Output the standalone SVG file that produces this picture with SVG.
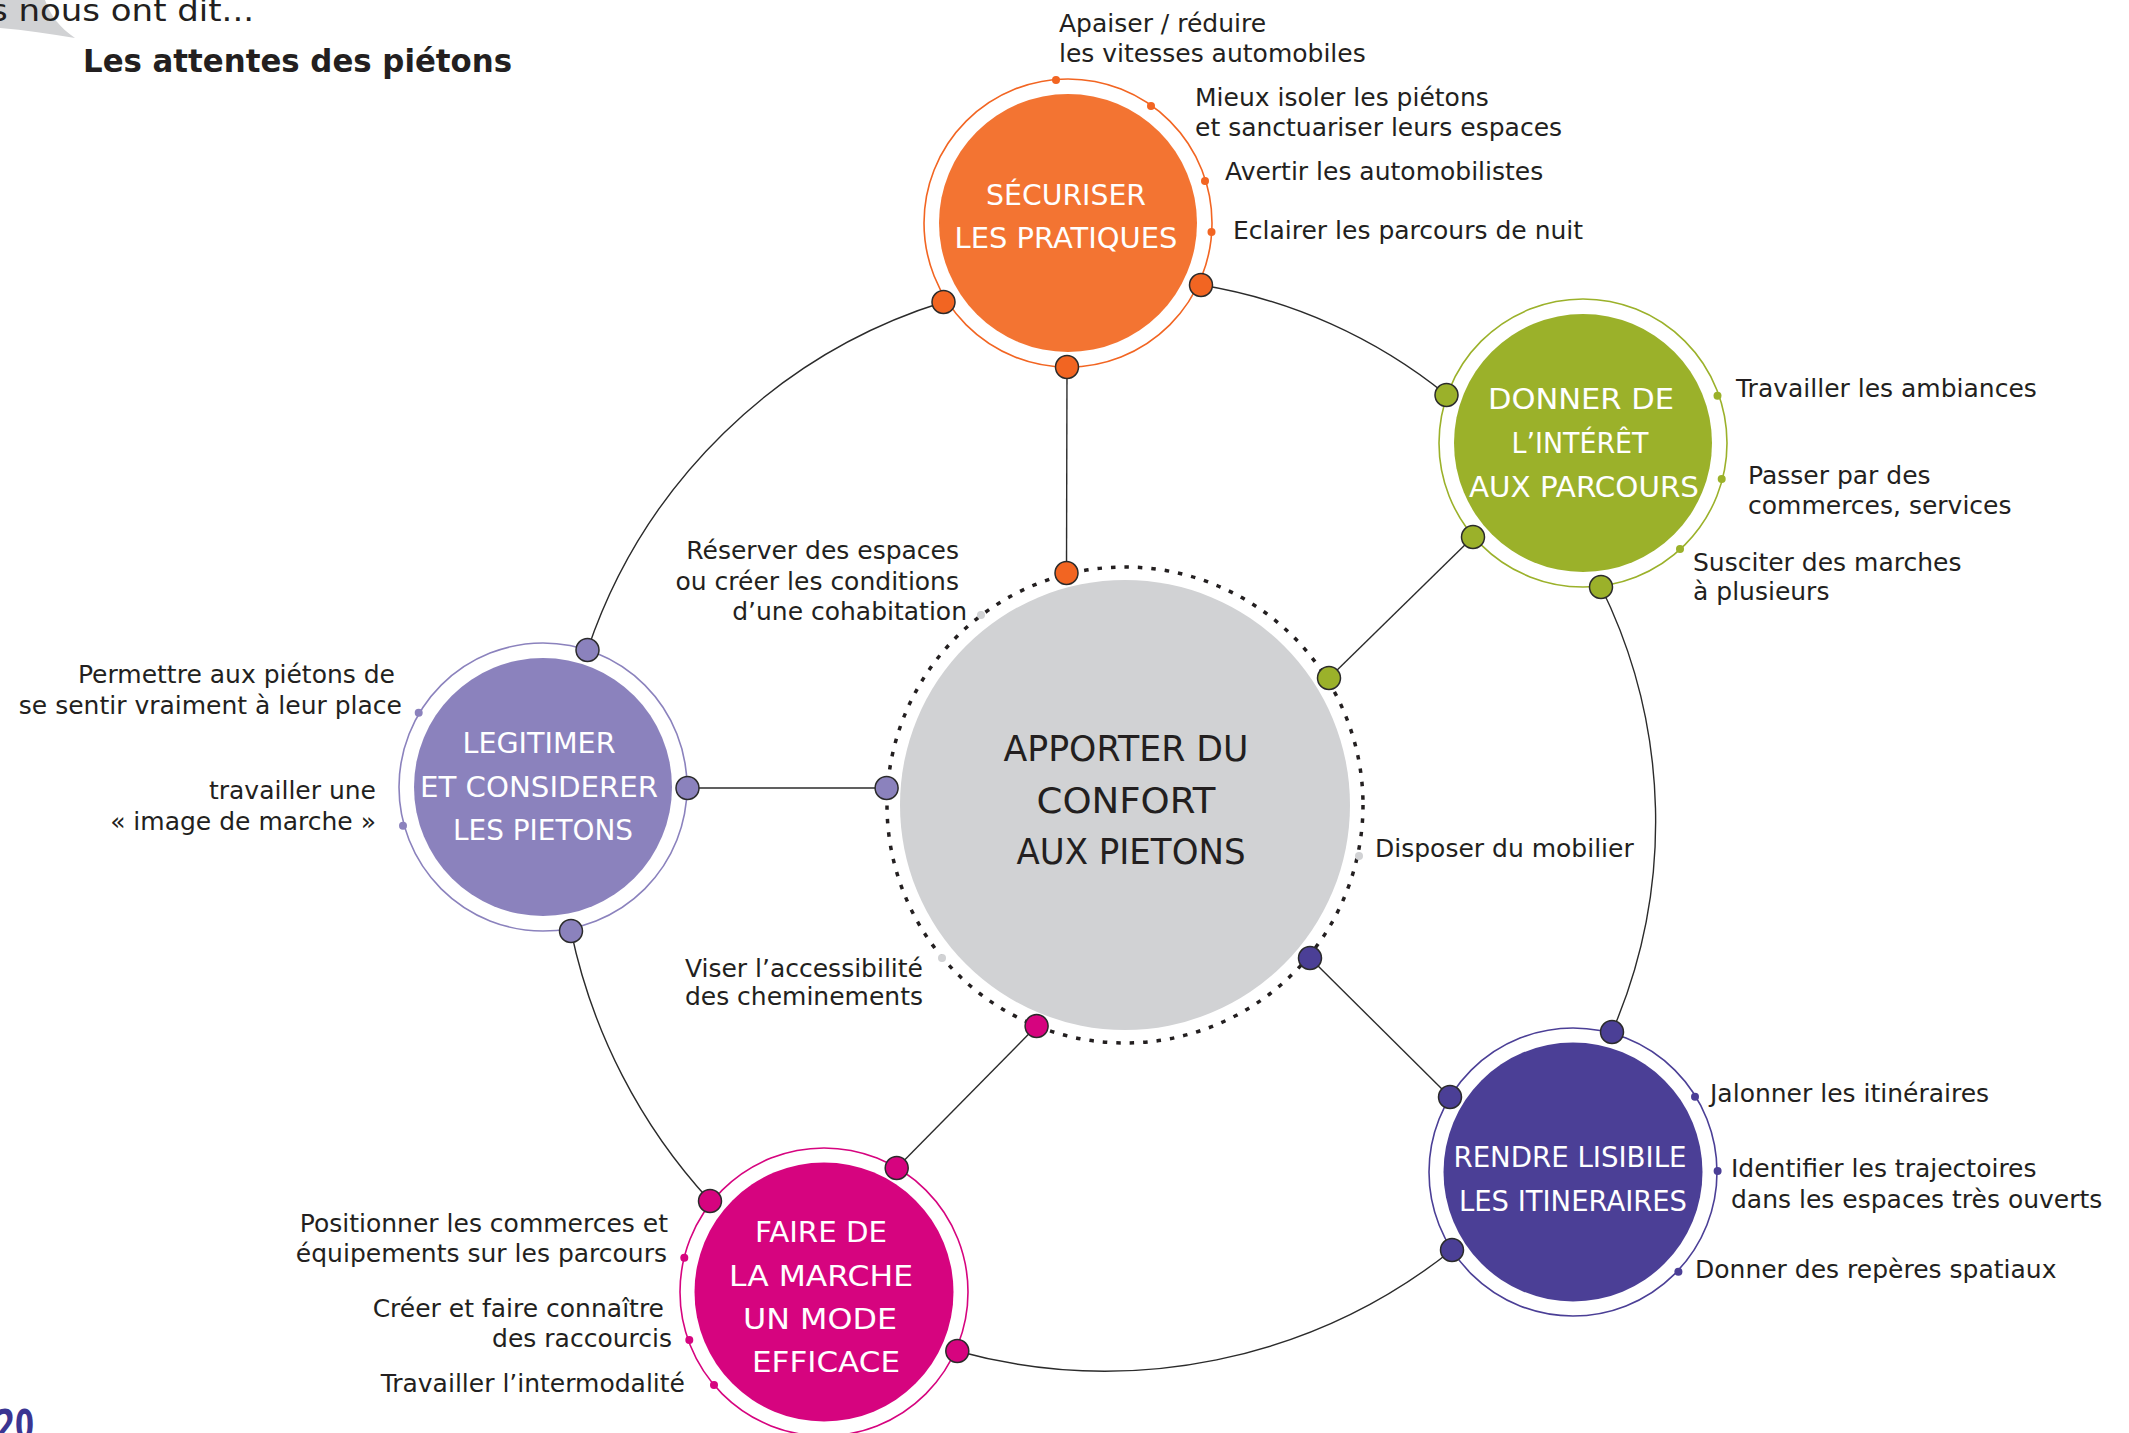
<svg xmlns="http://www.w3.org/2000/svg" width="2129" height="1433" viewBox="0 0 2129 1433">
<style>
text{font-family:"DejaVu Sans","Liberation Sans",sans-serif;}
.lb{font-size:25px;fill:#231F20;}
.e{text-anchor:end;}
.nt{font-size:29px;fill:#ffffff;text-anchor:middle;}
.ct{font-size:35px;fill:#231F20;text-anchor:middle;}
.ring{fill:none;stroke-width:1.6;}
.ln{fill:none;stroke:#2b2b2b;stroke-width:1.4;}
.cd{stroke:#2b2b2b;stroke-width:1.5;}
.o{fill:#F26522;} .g{fill:#9BB12A;} .l{fill:#8B82BD;} .p{fill:#4B3F96;} .m{fill:#D6047F;} .gr{fill:#D1D2D4;}
</style>

<g id="header">
  <path d="M0,0 L45,0 C50,15 60,28 75,38 C50,34 25,30 0,28 Z" fill="#D1D2D4"/>
  <text x="-10" y="21" font-size="30" fill="#231F20" textLength="264" lengthAdjust="spacingAndGlyphs">s nous ont dit...</text>
  <text x="83" y="72" font-size="32" font-weight="bold" fill="#231F20" textLength="429" lengthAdjust="spacingAndGlyphs">Les attentes des piétons</text>
  <text x="-4" y="1439" font-size="40" font-weight="bold" fill="#3B3592" textLength="38" lengthAdjust="spacingAndGlyphs">20</text>
</g>

<g id="node-center">
  <circle cx="1125" cy="805" r="225" fill="#D1D2D4"/>
  <circle cx="1125" cy="805" r="238" fill="none" stroke="#231F20" stroke-width="3.5" stroke-dasharray="4.5 9"/>
  <text class="ct" x="1126" y="761" textLength="245" lengthAdjust="spacingAndGlyphs">APPORTER DU</text>
  <text class="ct" x="1126" y="813" textLength="179" lengthAdjust="spacingAndGlyphs">CONFORT</text>
  <text class="ct" x="1131" y="864" textLength="229" lengthAdjust="spacingAndGlyphs">AUX PIETONS</text>
  <circle class="gr" cx="981" cy="615" r="4"/>
  <circle class="gr" cx="942" cy="958" r="4"/>
  <circle class="gr" cx="1359" cy="856" r="4"/>
  <text class="lb e" x="959" y="559">Réserver des espaces</text>
  <text class="lb e" x="959" y="590">ou créer les conditions</text>
  <text class="lb e" x="967" y="620">d’une cohabitation</text>
  <text class="lb e" x="923" y="977">Viser l’accessibilité</text>
  <text class="lb e" x="923" y="1005">des cheminements</text>
  <text class="lb" x="1375" y="857">Disposer du mobilier</text>
</g>

<g id="node-securiser">
  <circle class="ring" cx="1068" cy="223" r="144" stroke="#F26522"/>
  <circle cx="1068" cy="223" r="129" fill="#F37432"/>
  <text class="nt" x="1066" y="205" textLength="160" lengthAdjust="spacingAndGlyphs">SÉCURISER</text>
  <text class="nt" x="1066" y="248" textLength="223" lengthAdjust="spacingAndGlyphs">LES PRATIQUES</text>
  <circle class="o" cx="1056" cy="80" r="4"/>
  <circle class="o" cx="1151" cy="106" r="4"/>
  <circle class="o" cx="1205" cy="181" r="4"/>
  <circle class="o" cx="1211.5" cy="232" r="4"/>
  <text class="lb" x="1059" y="32">Apaiser / réduire</text>
  <text class="lb" x="1059" y="62">les vitesses automobiles</text>
  <text class="lb" x="1195" y="106">Mieux isoler les piétons</text>
  <text class="lb" x="1195" y="136">et sanctuariser leurs espaces</text>
  <text class="lb" x="1225" y="180">Avertir les automobilistes</text>
  <text class="lb" x="1233" y="239">Eclairer les parcours de nuit</text>
</g>

<g id="node-interet">
  <circle class="ring" cx="1583" cy="443" r="144" stroke="#9BB12A"/>
  <circle cx="1583" cy="443" r="129" fill="#9BB12A"/>
  <text class="nt" x="1581" y="409" textLength="186" lengthAdjust="spacingAndGlyphs">DONNER DE</text>
  <text class="nt" x="1580" y="453" textLength="137" lengthAdjust="spacingAndGlyphs">L’INTÉRÊT</text>
  <text class="nt" x="1584" y="497" textLength="230" lengthAdjust="spacingAndGlyphs">AUX PARCOURS</text>
  <circle class="g" cx="1717.5" cy="395.7" r="4"/>
  <circle class="g" cx="1721.7" cy="479" r="4"/>
  <circle class="g" cx="1680" cy="549" r="4"/>
  <text class="lb" x="1736" y="397">Travailler les ambiances</text>
  <text class="lb" x="1748" y="484">Passer par des</text>
  <text class="lb" x="1748" y="514">commerces, services</text>
  <text class="lb" x="1693" y="571">Susciter des marches</text>
  <text class="lb" x="1693" y="600">à plusieurs</text>
</g>

<g id="node-legitimer">
  <circle class="ring" cx="543" cy="787" r="144" stroke="#8B82BD"/>
  <circle cx="543" cy="787" r="129" fill="#8B82BD"/>
  <text class="nt" x="539" y="753" textLength="153" lengthAdjust="spacingAndGlyphs">LEGITIMER</text>
  <text class="nt" x="539" y="797" textLength="238" lengthAdjust="spacingAndGlyphs">ET CONSIDERER</text>
  <text class="nt" x="543" y="840" textLength="180" lengthAdjust="spacingAndGlyphs">LES PIETONS</text>
  <circle class="l" cx="418.7" cy="712.7" r="4"/>
  <circle class="l" cx="403" cy="825.7" r="4"/>
  <text class="lb e" x="395" y="683">Permettre aux piétons de</text>
  <text class="lb e" x="402" y="714">se sentir vraiment à leur place</text>
  <text class="lb e" x="376" y="799">travailler une</text>
  <text class="lb e" x="376" y="830">« image de marche »</text>
</g>

<g id="node-lisibile">
  <circle class="ring" cx="1573" cy="1172" r="144" stroke="#4B3F96"/>
  <circle cx="1573" cy="1172" r="129.5" fill="#4B3F96"/>
  <text class="nt" x="1570" y="1167" textLength="233" lengthAdjust="spacingAndGlyphs">RENDRE LISIBILE</text>
  <text class="nt" x="1573" y="1211" textLength="228" lengthAdjust="spacingAndGlyphs">LES ITINERAIRES</text>
  <circle class="p" cx="1695" cy="1096.7" r="4"/>
  <circle class="p" cx="1717.6" cy="1171" r="4"/>
  <circle class="p" cx="1678.4" cy="1271.7" r="4"/>
  <text class="lb" x="1710" y="1102">Jalonner les itinéraires</text>
  <text class="lb" x="1731" y="1177">Identifier les trajectoires</text>
  <text class="lb" x="1731" y="1208">dans les espaces très ouverts</text>
  <text class="lb" x="1695" y="1278">Donner des repères spatiaux</text>
</g>

<g id="node-marche">
  <circle class="ring" cx="824" cy="1292" r="144" stroke="#D6047F"/>
  <circle cx="824" cy="1292" r="129.5" fill="#D6047F"/>
  <text class="nt" x="821" y="1242" textLength="132" lengthAdjust="spacingAndGlyphs">FAIRE DE</text>
  <text class="nt" x="821" y="1286" textLength="184" lengthAdjust="spacingAndGlyphs">LA MARCHE</text>
  <text class="nt" x="820" y="1329" textLength="154" lengthAdjust="spacingAndGlyphs">UN MODE</text>
  <text class="nt" x="826" y="1372" textLength="148" lengthAdjust="spacingAndGlyphs">EFFICACE</text>
  <circle class="m" cx="684.3" cy="1257.7" r="4"/>
  <circle class="m" cx="689.3" cy="1340" r="4"/>
  <circle class="m" cx="714" cy="1385" r="4"/>
  <text class="lb e" x="668" y="1232">Positionner les commerces et</text>
  <text class="lb e" x="667" y="1262">équipements sur les parcours</text>
  <text class="lb e" x="664" y="1317">Créer et faire connaître</text>
  <text class="lb e" x="672" y="1347">des raccourcis</text>
  <text class="lb e" x="685" y="1392">Travailler l’intermodalité</text>
</g>

<g id="connectors">
  <path class="ln" d="M587.5,650 A547,547 0 0 1 943.5,302"/>
  <path class="ln" d="M1201,285 A523,523 0 0 1 1446.5,395"/>
  <path class="ln" d="M1601,587 A530,530 0 0 1 1612,1032"/>
  <path class="ln" d="M1452,1250 A557,557 0 0 1 957,1351"/>
  <path class="ln" d="M710,1201 A571,571 0 0 1 571,931"/>
  <line class="ln" x1="1067" y1="367" x2="1066.5" y2="573"/>
  <line class="ln" x1="1473" y1="537" x2="1329" y2="678"/>
  <line class="ln" x1="687.5" y1="788" x2="886.6" y2="788"/>
  <line class="ln" x1="1310" y1="958" x2="1450" y2="1097"/>
  <line class="ln" x1="1036.6" y1="1026" x2="896.7" y2="1168"/>
  <circle class="cd o" cx="943.5" cy="302" r="11.5"/>
  <circle class="cd o" cx="1201" cy="285" r="11.5"/>
  <circle class="cd o" cx="1067" cy="367" r="11.5"/>
  <circle class="cd o" cx="1066.5" cy="573" r="11.5"/>
  <circle class="cd g" cx="1446.5" cy="395" r="11.5"/>
  <circle class="cd g" cx="1473" cy="537" r="11.5"/>
  <circle class="cd g" cx="1601" cy="587" r="11.5"/>
  <circle class="cd g" cx="1329" cy="678" r="11.5"/>
  <circle class="cd l" cx="587.5" cy="650" r="11.5"/>
  <circle class="cd l" cx="687.5" cy="788" r="11.5"/>
  <circle class="cd l" cx="571" cy="931" r="11.5"/>
  <circle class="cd l" cx="886.6" cy="788" r="11.5"/>
  <circle class="cd p" cx="1612" cy="1032" r="11.5"/>
  <circle class="cd p" cx="1450" cy="1097" r="11.5"/>
  <circle class="cd p" cx="1452" cy="1250" r="11.5"/>
  <circle class="cd p" cx="1310" cy="958" r="11.5"/>
  <circle class="cd m" cx="710" cy="1201" r="11.5"/>
  <circle class="cd m" cx="896.7" cy="1168" r="11.5"/>
  <circle class="cd m" cx="957.3" cy="1351" r="11.5"/>
  <circle class="cd m" cx="1036.6" cy="1026" r="11.5"/>
</g>
</svg>
